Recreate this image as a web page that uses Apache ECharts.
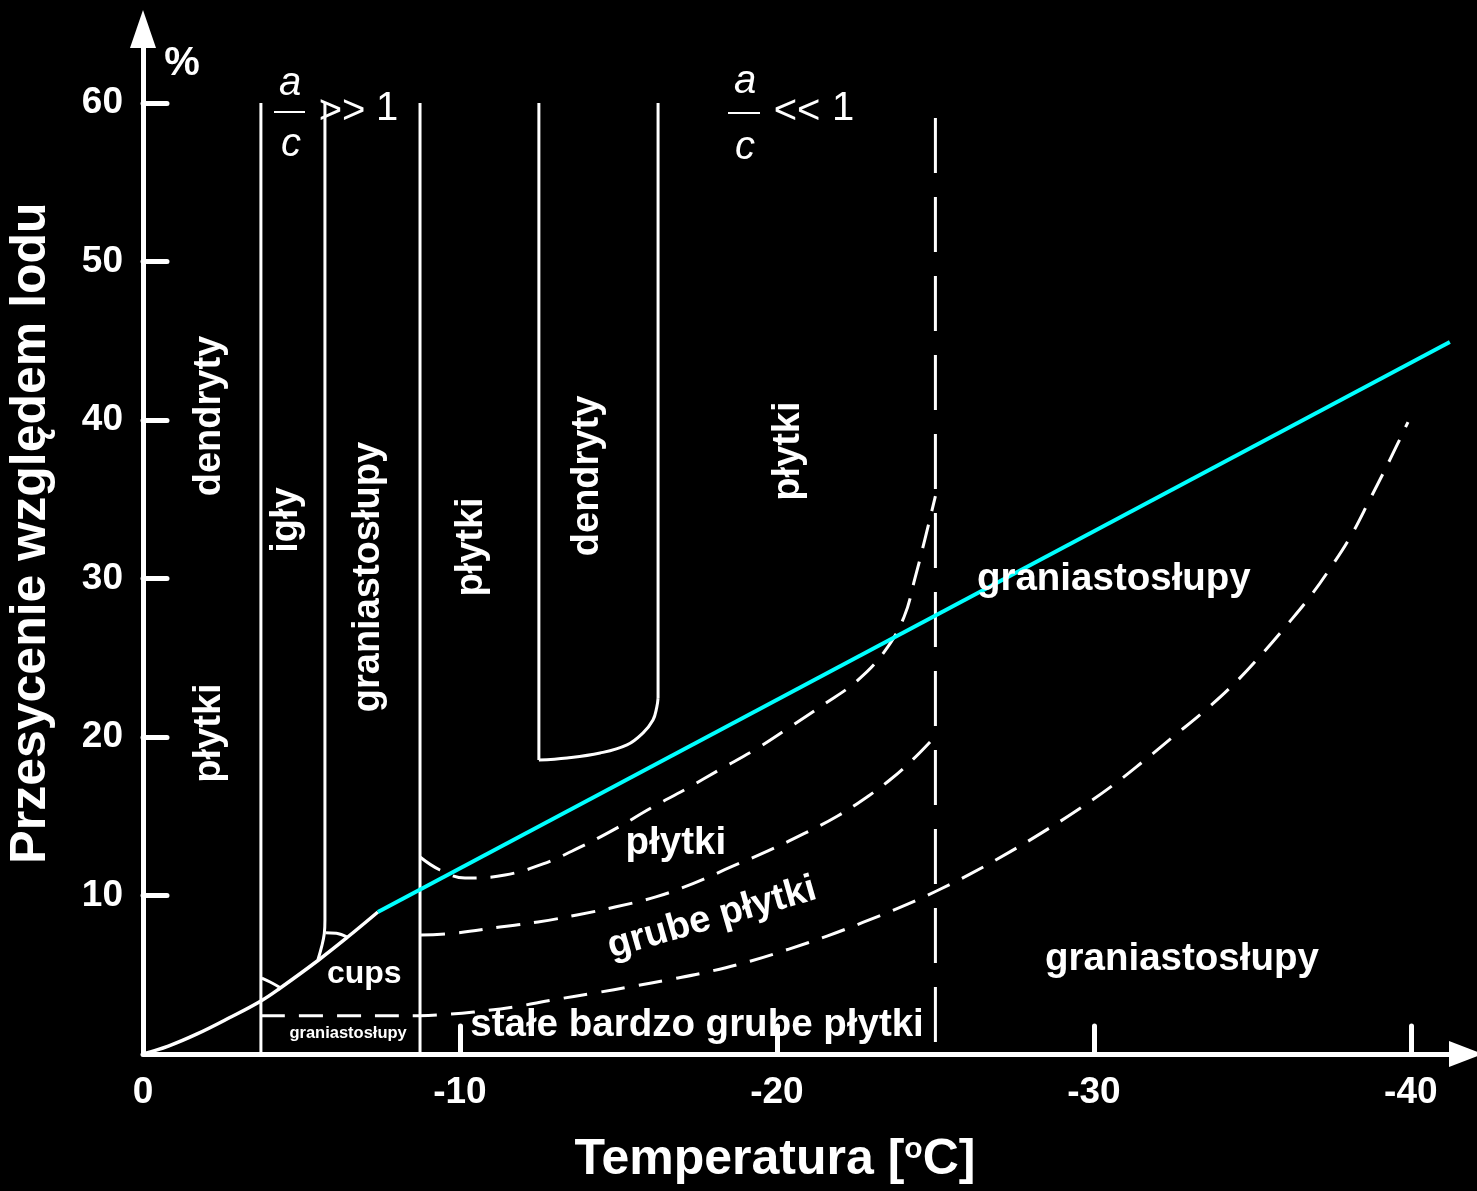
<!DOCTYPE html>
<html>
<head>
<meta charset="utf-8">
<script src="https://cdn.jsdelivr.net/npm/echarts@6/dist/echarts.min.js"></script>
<style>
html,body{margin:0;padding:0;background:#000;}
#c{width:1477px;height:1191px;}
</style>
</head>
<body>
<div id="c"></div>
<script>
// ---------- axis ticks / labels ----------
const xTickValues = [-10, -20, -30, -40];
const xLabelValues = [0, -10, -20, -30, -40];
const yTickValues = [10, 20, 30, 40, 50, 60];

// ---------- lines: [temperature °C, supersaturation %] ----------
const waterSatCurve = [[0, 0], [-0.8, 0.5], [-1.69, 1.25], [-2.74, 2.3], [-3.72, 3.35], [-4.32, 4.15], [-5.52, 5.9], [-6.44, 7.35], [-7.41, 8.96]];
const waterSatLine = [[-7.41, 8.96], [-41.23, 44.92]];

const boundaryA = [[-3.72, 60], [-3.72, 0]];
const boundaryAArc = [[-3.75, 4.79], [-4.01, 4.54], [-4.32, 4.2]];
const boundaryB = [[-5.74, 60], [-5.74, 8.45], [-5.72, 7.6], [-5.64, 6.8], [-5.52, 5.95]];
const boundaryBArc = [[-5.76, 7.65], [-6.1, 7.62], [-6.44, 7.38]];
const boundaryC = [[-8.74, 60], [-8.74, 0]];
const dendriteLeft = [[-12.49, 60], [-12.49, 18.55]];
const dendriteBottom = [[-12.49, 18.55], [-13.38, 18.68], [-14.42, 18.99], [-15.27, 19.5], [-15.77, 20.25], [-16.09, 21.07], [-16.21, 21.89], [-16.25, 22.46]];
const dendriteRight = [[-16.25, 22.46], [-16.25, 60]];
const boundaryD = [[-25, 59.05], [-25, 0]];

const platesUpper = [[-8.74, 12.43], [-9.37, 11.61], [-10.16, 11.1], [-11.42, 11.29], [-12.62, 11.99], [-13.79, 13.05], [-14.9, 14.2], [-16.03, 15.52], [-17.13, 16.72], [-18.23, 17.98], [-19.34, 19.24], [-20.41, 20.63], [-21.45, 22.02], [-22.52, 23.53], [-23.38, 25.36], [-24.01, 27.57], [-24.35, 29.97], [-24.67, 32.49], [-25.0, 35.2]];
const platesMiddle = [[-8.77, 7.51], [-9.87, 7.63], [-11.26, 8.01], [-12.46, 8.33], [-13.69, 8.77], [-14.89, 9.27], [-16.18, 9.91], [-17.35, 10.75], [-18.55, 11.8], [-19.7, 12.8], [-20.85, 13.9], [-21.9, 15.0], [-22.9, 16.3], [-23.6, 17.35], [-24.3, 18.6], [-24.98, 20.0]];
const platesLower = [[-3.72, 2.42], [-6.0, 2.42], [-8.74, 2.42], [-9.6, 2.5], [-10.44, 2.65], [-11.7, 2.97], [-12.93, 3.41], [-14.26, 3.85], [-15.46, 4.27], [-16.62, 4.7], [-17.95, 5.24], [-19.18, 5.87], [-20.38, 6.62], [-21.58, 7.44], [-22.71, 8.3], [-23.94, 9.3], [-25.05, 10.3], [-26.09, 11.35], [-27.35, 12.75], [-28.39, 14.0], [-29.46, 15.36], [-30.57, 16.91], [-31.55, 18.45], [-32.49, 20.0], [-33.56, 21.77], [-34.51, 23.53], [-35.33, 25.3], [-36.09, 27.07], [-36.81, 28.83], [-37.44, 30.6], [-38.08, 32.59], [-38.71, 35.0], [-39.34, 37.5], [-39.91, 39.87]];

// ---------- region labels (anchor in data units) ----------
const regionLabels = [
  { text: 'dendryty', t: -2.10, s: 40.25, kind: 'vertical' },
  { text: 'płytki', t: -2.11, s: 20.25, kind: 'vertical' },
  { text: 'igły', t: -4.54, s: 33.69, kind: 'vertical' },
  { text: 'graniastosłupy', t: -7.13, s: 30.09, kind: 'vertical' },
  { text: 'płytki', t: -10.35, s: 31.99, kind: 'vertical' },
  { text: 'dendryty', t: -14.04, s: 36.47, kind: 'vertical' },
  { text: 'płytki', t: -20.35, s: 38.04, kind: 'vertical' },
  { text: 'graniastosłupy', t: -30.63, s: 29.97, kind: 'flat' },
  { text: 'graniastosłupy', t: -32.78, s: 5.99, kind: 'flat' },
  { text: 'płytki', t: -16.81, s: 13.31, kind: 'flat' },
  { text: 'grube płytki', t: -17.95, s: 8.58, kind: 'tilted' },
  { text: 'cups', t: -6.98, s: 5.05, kind: 'cups' },
  { text: 'graniastosłupy', t: -6.47, s: 1.29, kind: 'small' },
  { text: 'stałe bardzo grube płytki', t: -17.48, s: 1.83, kind: 'flat' }
];

// ---------- styling ----------
const FONT = '"Liberation Sans", Arial, Helvetica, sans-serif';
const WHITE = '#ffffff';
const CYAN = '#00ffff';
const labelKinds = {
  vertical: { rotate: 90, fontSize: 38 },
  flat: { rotate: 0, fontSize: 38.5 },
  tilted: { rotate: 16, fontSize: 38 },
  cups: { rotate: 0, fontSize: 32 },
  small: { rotate: 0, fontSize: 16.5 }
};

function lineSeries(data, color, width, dash, smooth, z) {
  return {
    type: 'line', data: data, symbol: 'none', showSymbol: false,
    smooth: smooth || false,
    silent: true, animation: false, z: z || 3, clip: false,
    lineStyle: { color: color, width: width, type: dash || 'solid', cap: 'butt', join: 'round' }
  };
}

const DASH = [24, 14];
const series = [
  lineSeries(boundaryA, WHITE, 3),
  lineSeries(boundaryAArc, WHITE, 3, null, 0.4),
  lineSeries(boundaryB, WHITE, 3, null, 0.4),
  lineSeries(boundaryBArc, WHITE, 3, null, 0.4),
  lineSeries(boundaryC, WHITE, 3),
  lineSeries(dendriteLeft, WHITE, 3),
  lineSeries(dendriteBottom, WHITE, 3, null, 0.4),
  lineSeries(dendriteRight, WHITE, 3),
  lineSeries(boundaryD, WHITE, 3, [55, 24]),
  lineSeries(platesUpper, WHITE, 3, DASH, 0.4),
  lineSeries(platesMiddle, WHITE, 3, DASH, 0.4),
  lineSeries(platesLower, WHITE, 3, DASH, 0.4),
  lineSeries(waterSatCurve, WHITE, 3.5, null, 0.4, 4),
  lineSeries(waterSatLine, CYAN, 4, null, false, 4),
  {
    type: 'scatter', symbol: 'circle', symbolSize: 2, silent: true, animation: false, z: 10,
    itemStyle: { color: 'rgba(0,0,0,0)', opacity: 1 },
    data: regionLabels.map(function (l) {
      const k = labelKinds[l.kind];
      return {
        value: [l.t, l.s],
        label: {
          show: true, position: 'inside', formatter: l.text, rotate: k.rotate,
          fontSize: k.fontSize, fontWeight: 'bold', fontFamily: FONT, color: WHITE, opacity: 1,
          textBorderWidth: 0, align: 'center', verticalAlign: 'middle'
        }
      };
    })
  }
];

const txt = function (x, y, text, size, opts) {
  opts = opts || {};
  return {
    type: 'text', x: x, y: y, rotation: opts.rotation || 0, silent: true, z: 20,
    style: {
      text: text, fill: WHITE, fontSize: size, fontFamily: FONT,
      fontWeight: opts.weight || 'normal', fontStyle: opts.style || 'normal',
      align: 'center', verticalAlign: 'middle', rich: opts.rich
    }
  };
};
const hline = function (x1, x2, y) {
  return { type: 'line', silent: true, z: 20, shape: { x1: x1, y1: y, x2: x2, y2: y }, style: { stroke: WHITE, lineWidth: 2 } };
};

const option = {
  backgroundColor: '#000000',
  animation: false,
  grid: { left: 143, right: 11, top: 29, bottom: 137, containLabel: false },
  xAxis: {
    type: 'value', inverse: true, min: -41.74, max: 0,
    splitLine: { show: false },
    axisLine: { show: true, onZero: true, symbol: ['none', 'triangle'], symbolSize: [26, 34], lineStyle: { color: WHITE, width: 5 } },
    axisTick: { show: true, inside: true, length: 28, customValues: xTickValues, lineStyle: { color: WHITE, width: 5, cap: 'round' } },
    axisLabel: { show: true, customValues: xLabelValues, margin: 20, color: WHITE, fontSize: 37, fontWeight: 'bold', fontFamily: FONT,
      formatter: function (v) { return String(v); } }
  },
  yAxis: {
    type: 'value', min: 0, max: 64.67,
    splitLine: { show: false },
    axisLine: { show: true, onZero: true, symbol: ['none', 'triangle'], symbolSize: [26, 38], lineStyle: { color: WHITE, width: 5 } },
    axisTick: { show: true, inside: true, length: 24, customValues: yTickValues, lineStyle: { color: WHITE, width: 5, cap: 'round' } },
    axisLabel: { show: true, customValues: yTickValues, margin: 20, color: WHITE, fontSize: 37, fontWeight: 'bold', fontFamily: FONT }
  },
  series: series,
  graphic: {
    elements: [
      txt(31, 533, 'Przesycenie względem lodu', 50, { weight: 'bold', rotation: Math.PI / 2 }),
      txt(775, 1160, 'Temperatura [{sup|o}C]', 50, { weight: 'bold', rich: { sup: { fontSize: 30, fontWeight: 'bold', fontFamily: FONT, fill: WHITE, verticalAlign: 'top', padding: [0, 0, 18, 0] } } }),
      txt(182, 64, '%', 40, { weight: 'bold' }),
      // a/c >> 1
      txt(290, 83.5, 'a', 40, { style: 'italic' }),
      hline(274, 305, 112),
      txt(291, 144.5, 'c', 40, { style: 'italic' }),
      txt(342, 112, '>>', 40),
      txt(387, 109, '1', 40),
      // a/c << 1
      txt(745, 81.5, 'a', 40, { style: 'italic' }),
      hline(728, 760, 113),
      txt(745, 147.5, 'c', 40, { style: 'italic' }),
      txt(797, 112, '<<', 40),
      txt(843, 109, '1', 40)
    ]
  }
};

const chart = echarts.init(document.getElementById('c'), null, { renderer: 'canvas' });
chart.setOption(option);
</script>
</body>
</html>
